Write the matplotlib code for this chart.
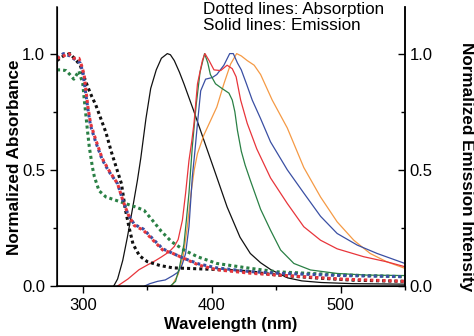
import matplotlib
matplotlib.use("Agg")
import matplotlib.pyplot as plt
from matplotlib.ticker import MultipleLocator

plt.rcParams['font.family'] = ['Liberation Sans', 'DejaVu Sans']

# absorption (dotted)
abs_black_x = [280, 285, 290, 295, 298, 301, 304, 307, 310, 314, 318, 322, 326, 330, 333, 336, 339, 344, 350,
               360, 370, 380, 404, 430, 451, 480, 510, 550]
abs_black_y = [0.97, 0.99, 1.0, 0.97, 0.95, 0.90, 0.855, 0.815, 0.78, 0.72, 0.66, 0.58, 0.51, 0.44, 0.33, 0.25,
               0.18, 0.13, 0.105, 0.088, 0.078, 0.076, 0.071, 0.061, 0.047, 0.035, 0.025, 0.02]

abs_red_x = [280, 285, 289, 293, 297, 299, 301, 302.5, 304, 306, 310, 315, 320, 327, 331, 335, 340, 347, 354,
             362, 370, 378, 390, 404, 430, 451, 500, 550]
abs_red_y = [0.98, 0.99, 1.0, 0.98, 0.98, 0.95, 0.91, 0.84, 0.77, 0.70, 0.63, 0.55, 0.50, 0.44, 0.37, 0.31,
             0.26, 0.24, 0.20, 0.155, 0.14, 0.12, 0.09, 0.07, 0.055, 0.047, 0.03, 0.02]

abs_blue_x = [280, 285, 290, 295, 298, 300, 302, 304, 306, 310, 315, 320, 327, 331, 335, 340, 347, 354,
              362, 370, 378, 390, 404, 430, 451, 500, 550]
abs_blue_y = [0.98, 1.0, 0.99, 0.97, 0.96, 0.92, 0.84, 0.76, 0.69, 0.62, 0.545, 0.495, 0.44, 0.37, 0.31,
              0.265, 0.245, 0.205, 0.16, 0.14, 0.12, 0.095, 0.078, 0.062, 0.055, 0.045, 0.04]

abs_green_x = [280, 283, 287, 290, 293, 297, 300, 301, 302.3, 303.6, 305, 307.5, 309, 312.6, 318, 325, 333, 341,
               347.5, 354, 361, 369, 378.5, 389, 404, 430, 451, 500, 550]
abs_green_y = [0.93, 0.93, 0.927, 0.91, 0.89, 0.925, 0.87, 0.81, 0.74, 0.67, 0.60, 0.51, 0.47, 0.41, 0.383, 0.37,
               0.355, 0.34, 0.326, 0.283, 0.235, 0.19, 0.155, 0.126, 0.097, 0.076, 0.061, 0.048, 0.04]

# emission (solid)
em_black_x = [324, 327, 331, 334.6, 338.5, 342.4, 345, 349, 352.7, 357, 361, 365.6, 368, 371, 375, 378.5, 386,
              394, 402, 412, 422, 430, 438, 446, 459, 470, 485, 510, 550]
em_black_y = [0, 0.03, 0.11, 0.21, 0.33, 0.455, 0.55, 0.72, 0.85, 0.93, 0.98, 1.0, 0.995, 0.97, 0.92, 0.87, 0.755,
              0.627, 0.50, 0.34, 0.21, 0.14, 0.10, 0.07, 0.035, 0.022, 0.015, 0.01, 0.008]

em_red_x = [327, 335, 343.6, 350, 356.6, 361, 367, 371, 374, 377.3, 379.8, 382.4, 384.5, 386.3, 389, 392.8,
            394.8, 398, 401.8, 407, 412, 416, 419, 422.5, 427.6, 435, 445.7, 458.7, 471.5, 484.5, 497.4, 518,
            536, 550]
em_red_y = [0, 0.03, 0.07, 0.09, 0.11, 0.125, 0.147, 0.17, 0.2, 0.283, 0.40, 0.54, 0.62, 0.70, 0.87, 0.97,
            1.0, 0.97, 0.93, 0.927, 0.95, 0.935, 0.90, 0.80, 0.70, 0.59, 0.465, 0.355, 0.255, 0.197, 0.16, 0.126,
            0.104, 0.083]

em_blue_x = [348, 352, 358, 364, 370, 374, 377, 379.8, 382.4, 385, 387, 389, 391.5, 395.3, 400.5, 404, 409.5,
             414, 416.8, 420, 423, 427, 431.5, 438, 445.7, 458.7, 471.5, 484.5, 497.4, 513, 528.4, 550]
em_blue_y = [0, 0.01, 0.02, 0.026, 0.045, 0.06, 0.09, 0.14, 0.255, 0.47, 0.58, 0.70, 0.84, 0.89, 0.897, 0.91,
             0.95, 1.0, 1.0, 0.96, 0.93, 0.87, 0.80, 0.72, 0.62, 0.50, 0.40, 0.30, 0.226, 0.176, 0.14, 0.097]

em_green_x = [368, 372, 375, 378.5, 380.5, 382.4, 385, 388, 391, 394.5, 397, 399, 403, 408, 413.4, 416, 418,
              420, 423, 426, 430, 438, 445.7, 453.5, 463.8, 476.7, 497.4, 520, 550]
em_green_y = [0, 0.02, 0.08, 0.18, 0.29, 0.40, 0.60, 0.78, 0.92, 1.0, 0.96, 0.91, 0.87, 0.85, 0.83, 0.80, 0.75,
              0.67, 0.58, 0.52, 0.455, 0.33, 0.24, 0.155, 0.097, 0.069, 0.054, 0.047, 0.045]

em_orange_x = [369, 374, 378, 381, 384, 386.5, 389, 394, 399, 404, 409.5, 414.7, 419.4, 423, 427.6, 433, 438,
               447, 458.7, 471.5, 484.5, 497.4, 510.3, 523, 536, 550]
em_orange_y = [0, 0.05, 0.13, 0.25, 0.40, 0.50, 0.57, 0.65, 0.71, 0.77, 0.87, 0.955, 1.0, 0.99, 0.97, 0.95, 0.91,
               0.80, 0.68, 0.51, 0.383, 0.276, 0.197, 0.14, 0.104, 0.076]

BLACK = '#111111'
RED = '#e8353b'
BLUE = '#3a4fa3'
GREEN = '#2a8045'
ORANGE = '#f59a45'


def main():
    fig = plt.figure(figsize=(4.74, 3.36), dpi=100)
    ax = fig.add_axes([0.1203, 0.1488, 0.734, 0.830])

    lw = 0.9
    ax.plot(em_black_x, em_black_y, color=BLACK, lw=lw)
    ax.plot(em_orange_x, em_orange_y, color=ORANGE, lw=lw)
    ax.plot(em_blue_x, em_blue_y, color=BLUE, lw=lw)
    ax.plot(em_green_x, em_green_y, color=GREEN, lw=lw)
    ax.plot(em_red_x, em_red_y, color=RED, lw=lw)

    dots = dict(lw=2.2, linestyle=(0, (1, 1)), dash_capstyle='butt')
    ax.plot(abs_green_x, abs_green_y, color=GREEN, **dots)
    ax.plot(abs_black_x, abs_black_y, color=BLACK, **dots)
    ax.plot(abs_blue_x, abs_blue_y, color=BLUE, **dots)
    ax.plot(abs_red_x, abs_red_y, color=RED, **dots)

    ax.set_xlim(280, 550)
    ax.set_ylim(0, 1.2)
    ax.xaxis.set_major_locator(MultipleLocator(100))
    ax.xaxis.set_minor_locator(MultipleLocator(50))
    ax.set_yticks([0, 0.5, 1.0])
    ax.yaxis.set_minor_locator(MultipleLocator(0.25))
    ax.tick_params(which='major', direction='out', length=5, width=1, labelsize=12)
    ax.tick_params(which='minor', direction='out', length=3, width=1)
    ax.spines['top'].set_visible(False)
    for s in ['left', 'bottom', 'right']:
        ax.spines[s].set_linewidth(1.1)

    ax2 = ax.twinx()
    ax2.set_ylim(0, 1.2)
    ax2.set_yticks([0, 0.5, 1.0])
    ax2.yaxis.set_minor_locator(MultipleLocator(0.25))
    ax2.tick_params(which='major', direction='in', length=5, width=1, labelsize=12)
    ax2.tick_params(which='minor', direction='in', length=3, width=1)
    ax2.spines['top'].set_visible(False)
    ax2.spines['right'].set_linewidth(1.1)

    ax.set_xlabel('Wavelength (nm)', fontsize=12, fontweight='bold', labelpad=3)
    ax.set_ylabel('Normalized Absorbance', fontsize=12.3, fontweight='bold', labelpad=0)
    ax2.set_ylabel('Normalized Emission Intensity', fontsize=12.3, fontweight='bold',
                   rotation=-90, labelpad=30)
    # labels sit a bit below the axes centre in the original
    ax.yaxis.label.set_y(0.46)
    ax2.yaxis.label.set_y(0.43)

    ax.text(0.42, 1.018, 'Dotted lines: Absorption\nSolid lines: Emission', transform=ax.transAxes,
            fontsize=12.3, va='top', ha='left', linespacing=1.1)

    fig.savefig('out.png', dpi=100)


if __name__ == '__main__':
    main()
